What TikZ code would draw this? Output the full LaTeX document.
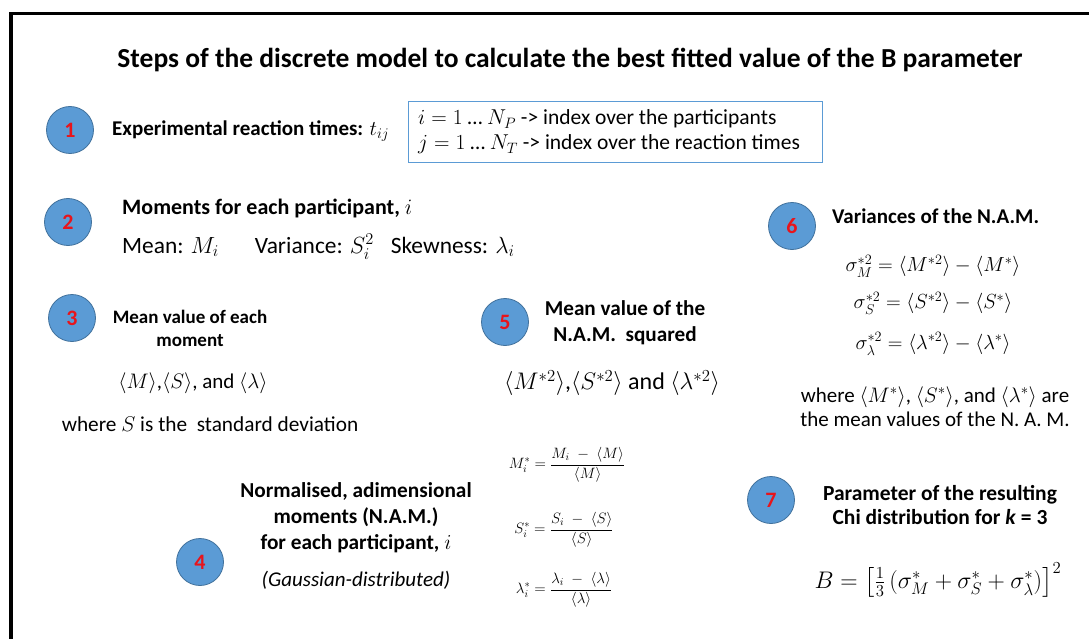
\RequirePackage{fix-cm}
\documentclass[tikz,border=0pt]{standalone}
\usepackage{amsmath}
\usepackage{fontspec}
\setmainfont{Carlito}
\usetikzlibrary{positioning}

\definecolor{stepblue}{HTML}{5B9BD5}
\definecolor{stepedge}{HTML}{41719C}
\definecolor{stepred}{HTML}{E8141B}

\begin{document}
\begin{tikzpicture}[
    x=1pt, y=-1pt,
    % --- Style Definitions ---
    stepcircle/.style={
        circle, minimum size=47pt, inner sep=0pt,
        fill=stepblue, draw=stepedge, line width=0.8pt,
        text=stepred, font=\bfseries\fontsize{22}{24}\selectfont
    },
    stephead/.style={
        font=\bfseries\pgfmathsetlengthmacro\lineskp{1.22*#1}\fontsize{#1}{\lineskp}\selectfont,
        align=center, inner sep=0pt
    },
    stephead/.default=21,
    bodytext/.style={
        font=\pgfmathsetlengthmacro\lineskp{1.16*#1}\fontsize{#1}{\lineskp}\selectfont,
        align=center, inner sep=0pt
    },
    bodytext/.default=21,
    indexbox/.style={
        draw=stepblue, line width=1pt, inner sep=0pt,
        minimum width=414pt, minimum height=61pt,
        anchor=north west
    }
]

\useasboundingbox (0,0) rectangle (1089,639);

% ================= Frame & Title =================
\draw[line width=3.5pt] (11,639) -- (11,13.5) -- (1089,13.5);
\node[stephead=27.5] (title) at (570,60)
    {Steps of the discrete model to calculate the best fitted value of the B parameter};

% ================= Step 1: Reaction times =================
\node[stepcircle] (c1) at (70,130) {1};
\node[stephead, anchor=west] (exp) at (112,131) {Experimental reaction times: $t_{ij}$};
\node[indexbox] (idx) at (408,101) {};
\node[bodytext=21.5, anchor=west, align=left] (idxtxt) at (418,132)
    {$i = 1$ \ldots{} $N_P$ -> index over the participants\\
     $j = 1$ \ldots{} $N_T$ -> index over the reaction times};

% ================= Step 2: Moments =================
\node[stepcircle] (c2) at (68,222) {2};
\node[stephead=22, anchor=west] (mom) at (122,208) {Moments for each participant, $i$};
\node[bodytext=23.4, anchor=west] (momvals) at (122,247)
    {Mean: $M_i$\hspace{36pt}Variance: $S_i^2$\hspace{17pt}Skewness: $\lambda_i$};

% ================= Step 3: Mean values =================
\node[stepcircle] (c3) at (72,318) {3};
\node[stephead=19] (meanmom) at (190,328) {Mean value of each\\ moment};
\node[bodytext=21] (means) at (193,383)
    {$\langle M\rangle$,$\langle S\rangle$, and $\langle\lambda\rangle$};
\node[bodytext=21.3] (sdev) at (210,424) {where $S$ is the\ \ standard deviation};

% ================= Step 4: N.A.M. =================
\node[stepcircle] (c4) at (200,562) {4};
\node[stephead=21.3] (nam) at (356,518)
    {Normalised, adimensional\\ moments (N.A.M.)\\ for each participant, $i$};
\node[bodytext=21] (gauss) at (356,580) {\itshape(Gaussian-distributed)};
\node[bodytext=15] (mstar) at (567,465)
    {$\displaystyle M_i^* = \frac{M_i \;-\; \langle M\rangle}{\langle M\rangle}$};
\node[bodytext=15] (sstar) at (564,530)
    {$\displaystyle S_i^* = \frac{S_i \;-\; \langle S\rangle}{\langle S\rangle}$};
\node[bodytext=15] (lstar) at (564,590)
    {$\displaystyle \lambda_i^* = \frac{\lambda_i \;-\; \langle \lambda\rangle}{\langle \lambda\rangle}$};

% ================= Step 5: Squared means =================
\node[stepcircle] (c5) at (505,322) {5};
\node[stephead=21.2] (sqhead) at (625,323) {Mean value of the\\ N.A.M.\ \ squared};
\node[bodytext=24] (sqvals) at (612,383)
    {$\langle M^{*2}\rangle$,$\langle S^{*2}\rangle$ and $\langle\lambda^{*2}\rangle$};

% ================= Step 6: Variances =================
\node[stepcircle] (c6) at (792,226) {6};
\node[stephead, anchor=west] (varhead) at (832,216) {Variances of the N.A.M.};
\node[bodytext=20.4] (varm) at (933,266)
    {$\sigma^{*2}_M = \langle M^{*2}\rangle - \langle M^*\rangle$};
\node[bodytext=20.4] (vars) at (933,303)
    {$\sigma^{*2}_S = \langle S^{*2}\rangle - \langle S^*\rangle$};
\node[bodytext=20.4] (varl) at (933,344)
    {$\sigma^{*2}_\lambda = \langle \lambda^{*2}\rangle - \langle \lambda^*\rangle$};
\node[bodytext] (varnote) at (935,407)
    {where $\langle M^*\rangle$, $\langle S^*\rangle$, and $\langle\lambda^*\rangle$ are\\
     the mean values of the N.\ A.\ M.};

% ================= Step 7: Chi parameter =================
\node[stepcircle] (c7) at (771,500) {7};
\node[stephead=21.5, font=\bfseries\fontsize{21.5}{24}\selectfont] (chihead) at (940,505)
    {Parameter of the resulting\\ Chi distribution for \textit{k} = 3};
\node[bodytext=24] (bform) at (938,580)
    {$B = \left[\tfrac{1}{3}\,(\sigma^*_M + \sigma^*_S + \sigma^*_\lambda)\right]^2$};

\end{tikzpicture}
\end{document}
